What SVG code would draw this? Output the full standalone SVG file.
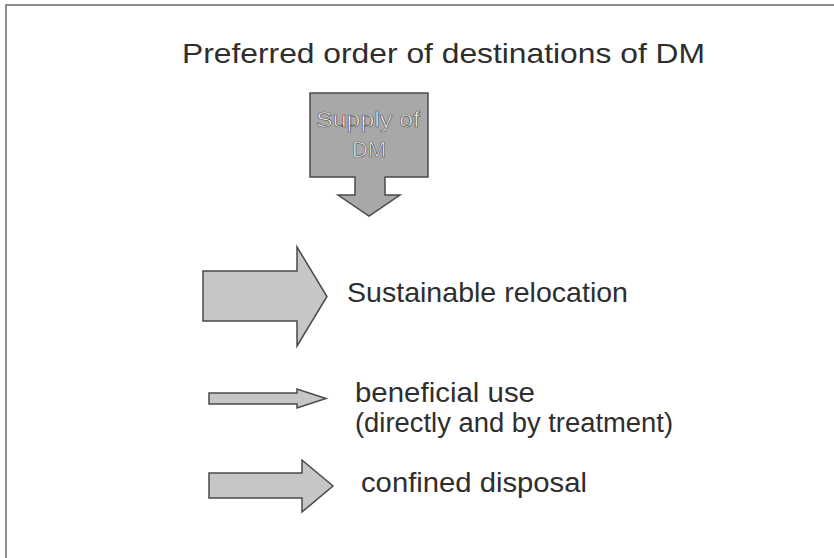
<svg xmlns="http://www.w3.org/2000/svg" width="834" height="558" viewBox="0 0 834 558">
  <style>
    .frame { fill: none; stroke: #6a6a6a; stroke-width: 1.5; }
    .arrow { fill: #c6c6c6; stroke: #4a4a4a; stroke-width: 1.5; stroke-linejoin: miter; }
    .supply { fill: #a8a8a8; stroke: #4a4a4a; stroke-width: 1.5; }
    .lbl { font-family: "Liberation Sans", Arial, sans-serif; fill: #2e2e2e; }
    .inv { font-family: "Liberation Sans", Arial, sans-serif; fill: #f4f4f4; stroke: #5a5a5a; stroke-width: 0.7; font-size: 22px; text-anchor: middle; }
  </style>
  <rect width="834" height="558" fill="#ffffff"/>
  <path class="frame" d="M6,558 V5 H834"/>

  <g id="title">
    <text class="lbl" x="182" y="63" font-size="28" textLength="523" lengthAdjust="spacingAndGlyphs">Preferred order of destinations of DM</text>
  </g>

  <g id="supply">
    <path class="supply" d="M310,93 H428 V177 H385 V195 H400 L369,216 L338,195 H355 V177 H310 Z"/>
    <text class="inv" x="368" y="127" textLength="104" lengthAdjust="spacingAndGlyphs">Supply of</text>
    <text class="inv" x="369" y="157">DM</text>
  </g>

  <g id="sustainable">
    <path class="arrow" d="M203,271 H297 V247 L327,296.5 L297,346 V321 H203 Z"/>
    <text class="lbl" x="347" y="302" font-size="28" textLength="281" lengthAdjust="spacingAndGlyphs">Sustainable relocation</text>
  </g>

  <g id="beneficial">
    <path class="arrow" d="M209,393 H297 V389 L326,398.5 L297,408 V404 H209 Z"/>
    <text class="lbl" x="355" y="402" font-size="27" textLength="180" lengthAdjust="spacingAndGlyphs">beneficial use</text>
    <text class="lbl" x="355" y="432" font-size="27" textLength="318" lengthAdjust="spacingAndGlyphs">(directly and by treatment)</text>
  </g>

  <g id="confined">
    <path class="arrow" d="M209,473 H302 V460 L333,486 L302,512 V498 H209 Z"/>
    <text class="lbl" x="361" y="492" font-size="27" textLength="226" lengthAdjust="spacingAndGlyphs">confined disposal</text>
  </g>

  <g id="connectors"/>
</svg>
